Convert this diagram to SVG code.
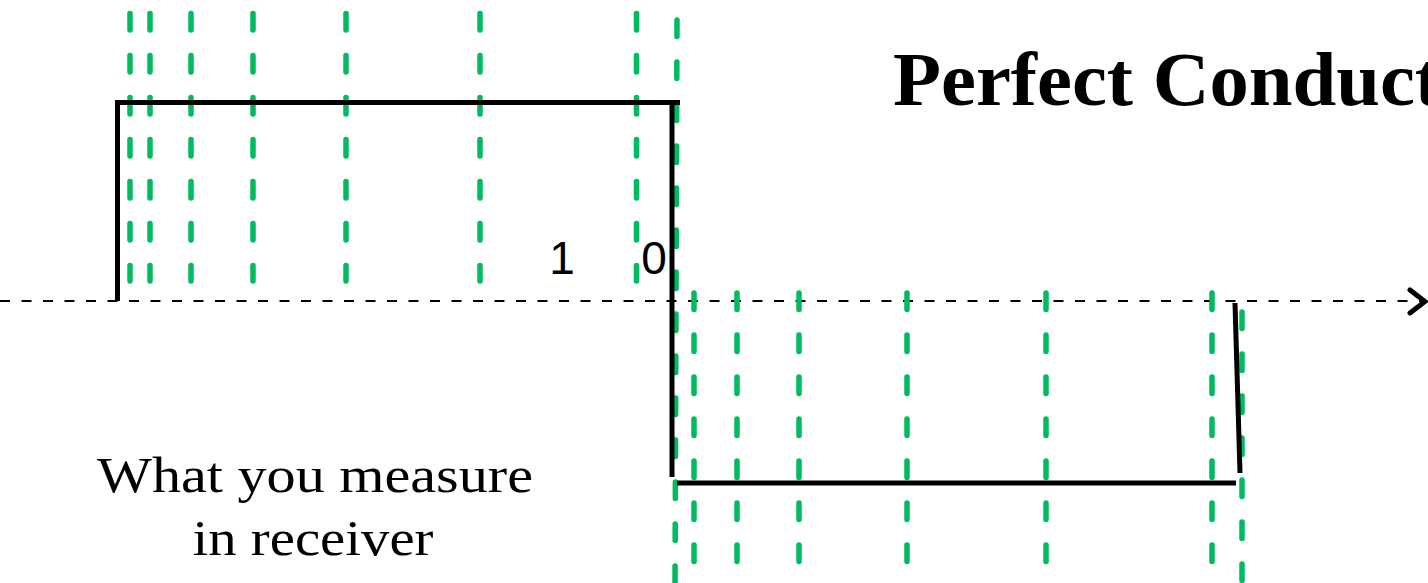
<svg xmlns="http://www.w3.org/2000/svg" width="1428" height="583" viewBox="0 0 1428 583">
<style>
.g{stroke:#00bb5f;stroke-width:5.5;stroke-linecap:round;stroke-dasharray:16.5 25.5;fill:none}
.w{stroke:#000;stroke-width:5;fill:none;stroke-linecap:butt}
.ax{stroke:#000;stroke-width:2;stroke-dasharray:10 11.5;fill:none}
.lab{font-family:"Liberation Sans",Arial,sans-serif;font-size:46px;fill:#000}
.ser{font-family:"Liberation Serif","Times New Roman",serif;fill:#000}
</style>
<rect width="1428" height="583" fill="#fff"/>
<g id="connectors">
  <line class="ax" x1="0" y1="301" x2="1424" y2="301"/>
  <polyline points="1410,290 1425,301.5 1410,313" fill="none" stroke="#000" stroke-width="5" stroke-linecap="round" stroke-linejoin="miter"/>
</g>
<g id="green-upper">
  <line class="g" x1="130" y1="13.5" x2="130" y2="281"/>
  <line class="g" x1="150" y1="13.5" x2="150" y2="281"/>
  <line class="g" x1="191" y1="13.5" x2="191" y2="281"/>
  <line class="g" x1="253" y1="13.5" x2="253" y2="281"/>
  <line class="g" x1="346" y1="13.5" x2="346" y2="281"/>
  <line class="g" x1="480" y1="13.5" x2="480" y2="281"/>
  <line class="g" x1="636.5" y1="13.5" x2="636.5" y2="281"/>
  <line class="g" x1="677" y1="20" x2="675" y2="590"/>
</g>
<g id="green-lower">
  <line class="g" x1="694" y1="293" x2="694" y2="562"/>
  <line class="g" x1="737" y1="293" x2="737" y2="562"/>
  <line class="g" x1="799" y1="293" x2="799" y2="562"/>
  <line class="g" x1="907" y1="293" x2="907" y2="562"/>
  <line class="g" x1="1046" y1="293" x2="1046" y2="562"/>
  <line class="g" x1="1212" y1="293" x2="1212" y2="562"/>
  <line class="g" x1="1242" y1="312" x2="1242" y2="590"/>
</g>
<g id="waveform">
  <polyline class="w" points="117.5,301 117.5,102.5 680,102.5"/>
  <line class="w" x1="672" y1="102.5" x2="672" y2="477"/>
  <line class="w" x1="677" y1="483" x2="1236" y2="483"/>
  <line class="w" x1="1235" y1="303" x2="1240" y2="473"/>
</g>
<g id="labels">
  <text class="lab" x="562" y="274" text-anchor="middle">1</text>
  <text class="lab" x="654" y="274" text-anchor="middle">0</text>
</g>
<g id="title">
  <text class="ser" x="893" y="105" font-size="77" font-weight="bold" textLength="548" lengthAdjust="spacingAndGlyphs">Perfect Conduct</text>
</g>
<g id="caption">
  <text class="ser" x="315" y="492" font-size="51" text-anchor="middle" textLength="436" lengthAdjust="spacingAndGlyphs">What you measure</text>
  <text class="ser" x="313" y="555" font-size="51" text-anchor="middle" textLength="241" lengthAdjust="spacingAndGlyphs">in receiver</text>
</g>
</svg>
